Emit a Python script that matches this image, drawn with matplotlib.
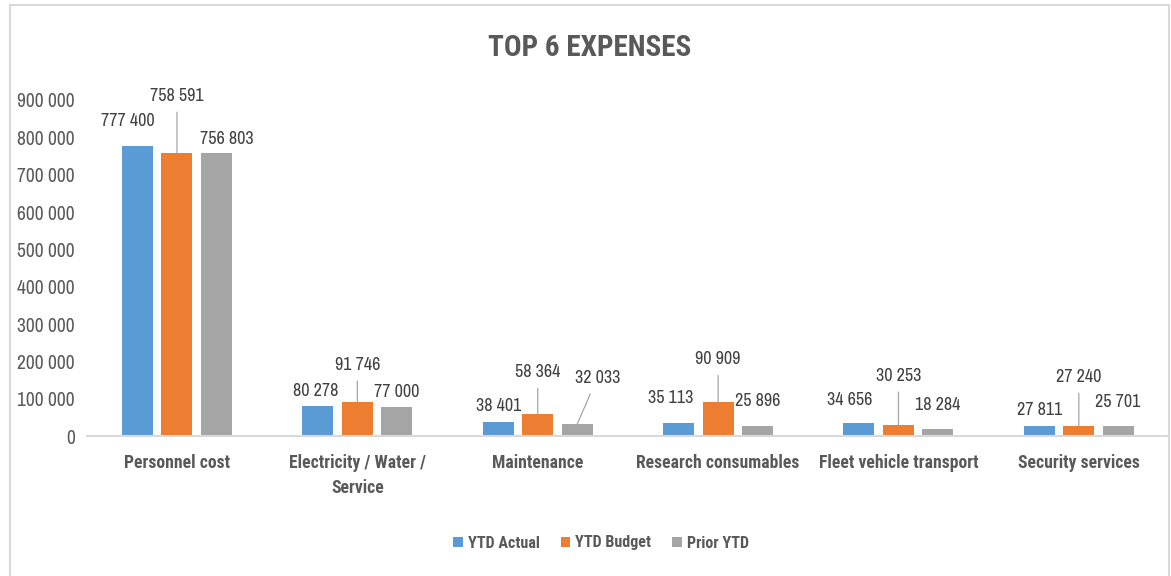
import matplotlib
matplotlib.use('Agg')
import matplotlib.pyplot as plt
import numpy as np
from matplotlib.patches import Rectangle, Patch

plt.rcParams['font.family'] = ['Archivo Narrow', 'DejaVu Sans']
BOLD = ['Roboto Condensed', 'Archivo Narrow', 'DejaVu Sans']

categories = ['Personnel cost', 'Electricity / Water /\nService', 'Maintenance',
              'Research consumables', 'Fleet vehicle transport', 'Security services']
series = ['YTD Actual', 'YTD Budget', 'Prior YTD']
ytd_actual = [777400, 80278, 38401, 35113, 34656, 27811]
ytd_budget = [758591, 91746, 58364, 90909, 30253, 27240]
prior_ytd = [756803, 77000, 32033, 25896, 18284, 25701]
colors = ['#5B9BD5', '#ED7D31', '#A5A5A5']

# label offsets in pixels (dx, dy above bar top), and whether a leader line is drawn
offsets = [
    [(-10, 25), (-2, 15), (0, 16), (-8, 25), (-9, 23), (0, 16)],
    [(0, 57), (0, 37), (0, 42), (0, 43), (0, 49), (0, 49)],
    [(10, 14), (0, 15), (20, 46), (0, 25), (0, 24), (-1, 24)],
]
leaders = [
    [False] * 6,
    [True] * 6,
    [False, False, True, False, False, False],
]

W, H = 1171, 576
fig = plt.figure(figsize=(W / 100, H / 100), dpi=100)
ax = fig.add_axes([86.8 / W, 1 - 436 / H, (1169 - 86.8) / W, 336 / H])

x = np.arange(len(categories))
width = 0.172
step = 0.219
txt = '#404040'
axc = '#595959'

for k, vals in enumerate([ytd_actual, ytd_budget, prior_ytd]):
    xs = x + (k - 1) * step
    ax.bar(xs, vals, width, color=colors[k], label=series[k], zorder=2)
    for i, v in enumerate(vals):
        dx, dy = offsets[k][i]
        lab = f"{v:,}".replace(',', ' ')
        arrow = None
        if leaders[k][i]:
            arrow = dict(arrowstyle='-', color='#A6A6A6', lw=0.9, shrinkA=4, shrinkB=0)
        ax.annotate(lab, xy=(xs[i], v), xytext=(dx * 0.72, dy * 0.72),
                    textcoords='offset points', ha='center', va='center',
                    fontsize=13, color=txt, arrowprops=arrow)

ax.set_xlim(-0.5, len(categories) - 0.5)
ax.set_ylim(0, 900000)
ax.set_yticks(np.arange(0, 900001, 100000))
ax.set_yticklabels([f"{int(t):,}".replace(',', ' ') for t in ax.get_yticks()],
                   fontsize=14, color=axc)
ax.set_xticks(x)
ax.set_xticklabels(categories, fontsize=12.7, fontweight='bold', family=BOLD,
                   color=axc, linespacing=1.5)
ax.tick_params(axis='y', length=0, pad=8.5)
ax.tick_params(axis='x', length=0, pad=13)
for s in ['top', 'right', 'left']:
    ax.spines[s].set_visible(False)
ax.spines['bottom'].set_color('#D9D9D9')
ax.spines['bottom'].set_linewidth(1.5)
ax.set_facecolor('none')

fig.text(590 / W, 1 - 48 / H, 'TOP 6 EXPENSES', ha='center', va='center',
         fontsize=21, fontweight='bold', family=BOLD, color=axc)

handles = [Patch(facecolor=c) for c in colors]
fig.legend(handles, series, loc='center', bbox_to_anchor=(601 / W, 1 - 543 / H),
           ncol=3, frameon=False, handlelength=0.6, handleheight=0.6,
           handletextpad=0.3, columnspacing=1.3,
           prop={'size': 11.6, 'weight': 'bold', 'family': BOLD}, labelcolor=axc)

fig.patches.append(Rectangle((10 / W, -0.02), 1159 / W, 1 - 5 / H + 0.02,
                             transform=fig.transFigure, fill=False,
                             edgecolor='#D9D9D9', lw=1.5))

fig.savefig('out.png', dpi=100)
